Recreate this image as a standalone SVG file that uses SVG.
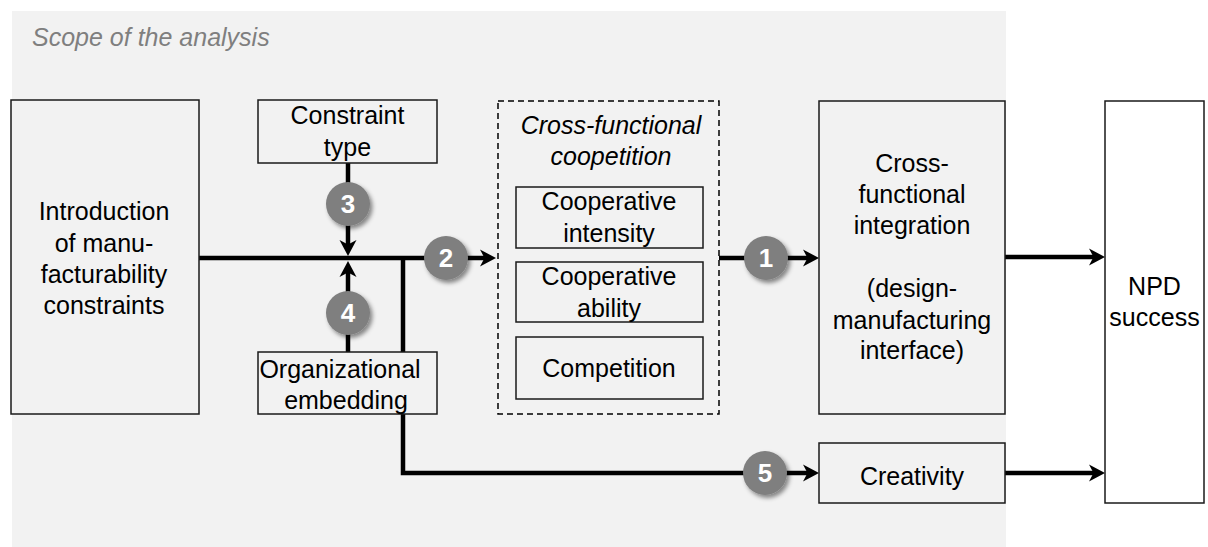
<svg xmlns="http://www.w3.org/2000/svg" width="1208" height="547" viewBox="0 0 1208 547">
  <style>
    .box { fill: #f2f2f2; stroke: #1a1a1a; stroke-width: 1.5; }
    .box-white { fill: #ffffff; stroke: #1a1a1a; stroke-width: 1.5; }
    .dashed { fill: none; stroke: #000000; stroke-width: 1.5; stroke-dasharray: 6 4; }
    .lbl { font-family: "Liberation Sans", Arial, sans-serif; font-size: 25px; fill: #000000; text-anchor: middle; }
    .ital { font-style: italic; }
    .scope { font-family: "Liberation Sans", Arial, sans-serif; font-size: 25px; font-style: italic; fill: #7f7f7f; }
    .flow { fill: none; stroke: #000000; stroke-width: 4.5; stroke-linejoin: miter; }
    .badge { fill: #7f7f7f; filter: url(#shadow); }
    .num { font-family: "Liberation Sans", Arial, sans-serif; font-size: 26px; font-weight: bold; fill: #ffffff; text-anchor: middle; }
  </style>
  <defs>
    <marker id="head" markerUnits="userSpaceOnUse" markerWidth="20" markerHeight="20" viewBox="0 -10 20 20" refX="8" refY="0" orient="auto">
      <path d="M0,-8.5 L16,0 L0,8.5 L4.5,0 Z" fill="#000000"/>
    </marker>
    <filter id="shadow" x="-40%" y="-40%" width="190%" height="190%">
      <feDropShadow dx="2.5" dy="3" stdDeviation="2.2" flood-color="#000000" flood-opacity="0.45"/>
    </filter>
  </defs>

  <!-- analysis scope backdrop -->
  <rect x="12" y="11" width="994" height="536" fill="#f2f2f2"/>
  <text class="scope" x="32" y="46">Scope of the analysis</text>

  <!-- connectors -->
  <g id="connectors">
    <line class="flow" x1="199" y1="258" x2="488" y2="258" marker-end="url(#head)"/>
    <line class="flow" x1="348" y1="163" x2="348" y2="248" marker-end="url(#head)"/>
    <line class="flow" x1="348" y1="352" x2="348" y2="269" marker-end="url(#head)"/>
    <path class="flow" d="M403,258 V473 H811" marker-end="url(#head)"/>
    <line class="flow" x1="719" y1="258" x2="811" y2="258" marker-end="url(#head)"/>
    <line class="flow" x1="1005" y1="257" x2="1097" y2="257" marker-end="url(#head)"/>
    <line class="flow" x1="1005" y1="473" x2="1097" y2="473" marker-end="url(#head)"/>

    <g id="badge-3"><circle class="badge" cx="348" cy="204" r="22"/><text class="num" x="348" y="213">3</text></g>
    <g id="badge-4"><circle class="badge" cx="348" cy="313" r="22"/><text class="num" x="348" y="322">4</text></g>
    <g id="badge-2"><circle class="badge" cx="446" cy="258" r="22"/><text class="num" x="446" y="267">2</text></g>
    <g id="badge-1"><circle class="badge" cx="766" cy="258" r="22"/><text class="num" x="766" y="267">1</text></g>
    <g id="badge-5"><circle class="badge" cx="765" cy="473" r="22"/><text class="num" x="765" y="482">5</text></g>
  </g>

  <!-- nodes -->
  <g id="introduction">
    <rect class="box" x="11" y="100" width="188" height="314"/>
    <text class="lbl" x="104" y="220">Introduction</text>
    <text class="lbl" x="104" y="252">of manu-</text>
    <text class="lbl" x="104" y="283">facturability</text>
    <text class="lbl" x="104" y="314">constraints</text>
  </g>

  <g id="constraint-type">
    <rect class="box" x="258" y="100" width="179" height="63"/>
    <text class="lbl" x="347.5" y="124">Constraint</text>
    <text class="lbl" x="347.5" y="156">type</text>
  </g>

  <g id="organizational-embedding">
    <rect class="box" x="258" y="352" width="179" height="62"/>
    <text class="lbl" x="340" y="378">Organizational</text>
    <text class="lbl" x="346" y="409">embedding</text>
  </g>

  <g id="coopetition">
    <rect class="dashed" x="498" y="101" width="221" height="313"/>
    <text class="lbl ital" x="611" y="134">Cross-functional</text>
    <text class="lbl ital" x="611" y="165">coopetition</text>
  </g>

  <g id="cooperative-intensity">
    <rect class="box" x="516" y="187" width="187" height="61"/>
    <text class="lbl" x="609" y="210">Cooperative</text>
    <text class="lbl" x="609" y="242">intensity</text>
  </g>

  <g id="cooperative-ability">
    <rect class="box" x="516" y="262" width="187" height="60"/>
    <text class="lbl" x="609" y="285">Cooperative</text>
    <text class="lbl" x="609" y="317">ability</text>
  </g>

  <g id="competition">
    <rect class="box" x="516" y="337" width="187" height="62"/>
    <text class="lbl" x="609" y="377">Competition</text>
  </g>

  <g id="cross-functional-integration">
    <rect class="box" x="819" y="101" width="186" height="313"/>
    <text class="lbl" x="912" y="172">Cross-</text>
    <text class="lbl" x="912" y="203">functional</text>
    <text class="lbl" x="912" y="234">integration</text>
    <text class="lbl" x="912" y="297">(design-</text>
    <text class="lbl" x="912" y="329">manufacturing</text>
    <text class="lbl" x="912" y="359">interface)</text>
  </g>

  <g id="creativity">
    <rect class="box" x="819" y="443" width="186" height="60"/>
    <text class="lbl" x="912" y="485">Creativity</text>
  </g>

  <g id="npd-success">
    <rect class="box-white" x="1105" y="101" width="99" height="402"/>
    <text class="lbl" x="1154.5" y="295">NPD</text>
    <text class="lbl" x="1154.5" y="326">success</text>
  </g>
</svg>
